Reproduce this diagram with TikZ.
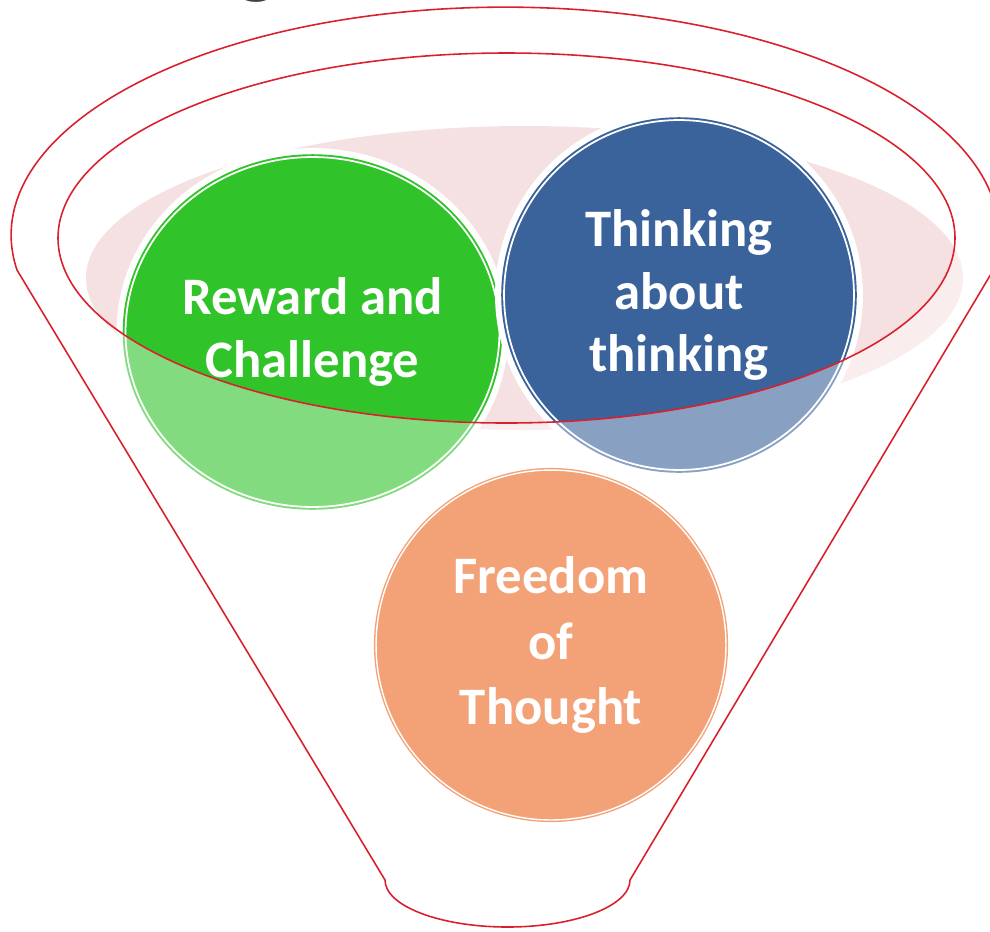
\documentclass[tikz,border=0pt]{standalone}
\usepackage{fontspec}
\setsansfont{Carlito}
\usepackage{tikz}
\usetikzlibrary{shapes.geometric}

\definecolor{rimred}{RGB}{218,32,44}
\definecolor{shadowpink}{RGB}{245,225,226}
\definecolor{rewardgreen}{RGB}{49,195,42}
\definecolor{thinkblue}{RGB}{58,99,155}
\definecolor{freeorange}{RGB}{242,162,118}
\definecolor{titlegray}{RGB}{64,64,64}

\begin{document}
\begin{tikzpicture}[x=0.02cm, y=-0.02cm]
		\useasboundingbox (0,0) rectangle (990,931);

		% pink shadow inside the rim
		\fill[shadowpink] (524.5,278) ellipse [x radius=438.5, y radius=152];

		\begin{scope}[every node/.style={inner sep=0pt, text=white, align=center,
					font=\sffamily\bfseries\fontsize{30}{35.5}\selectfont,
					line width=1.1pt, double=white, double distance=1pt,
					preaction={draw=white, line width=0.36cm}}]
			\node[ellipse, minimum width=7.48cm, minimum height=7cm,
				fill=rewardgreen, draw=rewardgreen] (reward) at (312.5,332) {Reward and\\Challenge};
			\node[circle, minimum size=7cm,
				fill=thinkblue, draw=thinkblue] (thinking) at (679,295) {Thinking\\about\\thinking};
		\end{scope}

		% everything outside the rim is seen through the funnel
		\fill[white, fill opacity=0.4, even odd rule] (0,0) rectangle (990,931)
			(506.5,238) ellipse [x radius=448.5, y radius=185];

		\node[circle, minimum size=7cm, inner sep=0pt, text=white, align=center,
			font=\sffamily\bfseries\fontsize{30}{37.5}\selectfont,
			fill=freeorange, draw=freeorange, line width=0.8pt,
			double=white, double distance=0.8pt] (freedom) at (551,645) {Freedom\\of\\Thought};

		\begin{scope}[draw=rimred, line width=0.9pt]
			\draw (17,270) arc [start angle=171.2, end angle=368.8, x radius=494, y radius=228]
				-- (630,880) arc [start angle=0, end angle=180, x radius=122.5, y radius=47] -- cycle;
			\draw (506.5,238) ellipse [x radius=448.5, y radius=185];
		\end{scope}

		\node[anchor=base, inner sep=0pt, text=titlegray,
			font=\sffamily\bfseries\fontsize{50}{60}\selectfont] (title) at (257,-13) {g};
	\end{tikzpicture}
\end{document}
